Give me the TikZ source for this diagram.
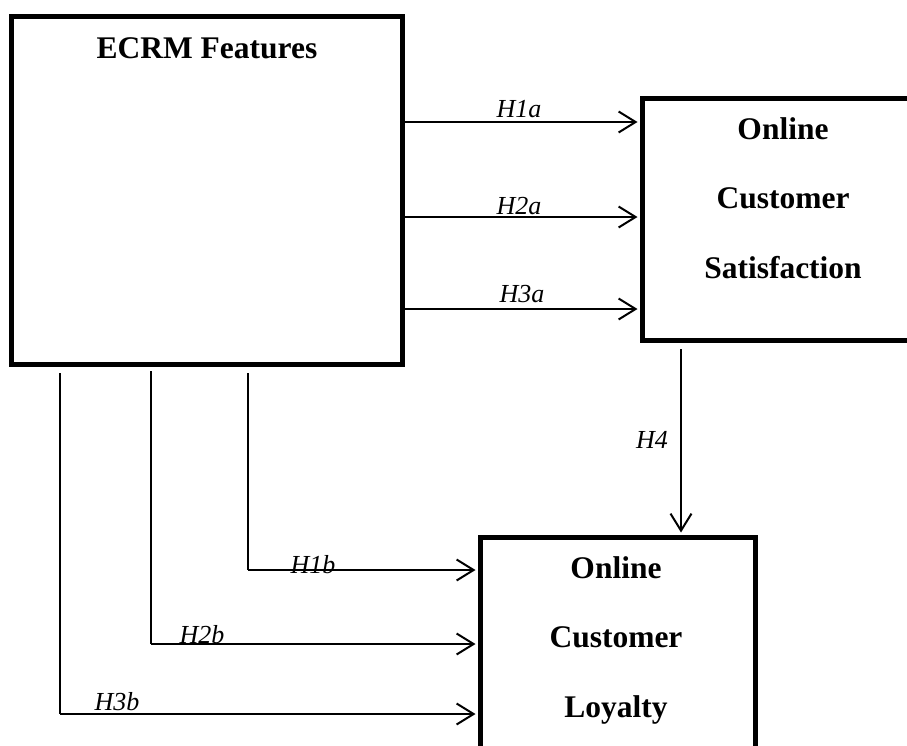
\documentclass[tikz,border=0pt]{standalone}
\usepackage{fontspec}
\setmainfont{Liberation Serif}
\usetikzlibrary{arrows.meta}
\begin{document}
\begin{tikzpicture}[x=1pt,y=-1pt,
 box/.style={draw,line width=5pt,inner sep=0pt},
 boxtext/.style={font=\fontsize{31.5}{36}\selectfont\bfseries,inner sep=0pt,anchor=base},
 hyp/.style={font=\fontsize{26}{30}\selectfont\itshape,inner sep=0pt,anchor=base},
 arr/.style={line width=2pt,shorten >=2pt,-{Straight Barb[length=17pt,width=21pt,line width=2pt]}},
 ln/.style={line width=2pt}]
\useasboundingbox (0,0) rectangle (907,745);
% boxes
\node[box,minimum width=391pt,minimum height=348pt] (ecrm) at (207,190) {};
\node[box,minimum width=282pt,minimum height=242pt] (sat) at (783,219) {};
\node[box,minimum width=275pt,minimum height=250pt] (loy) at (617.5,662) {};
% box texts
\node[boxtext] (ecrmt) at (207,58) {ECRM Features};
\node[boxtext] (sat1) at (783,139) {Online};
\node[boxtext] (sat2) at (783,208) {Customer};
\node[boxtext] (sat3) at (783,278) {Satisfaction};
\node[boxtext] (loy1) at (616,578) {Online};
\node[boxtext] (loy2) at (616,647) {Customer};
\node[boxtext] (loy3) at (616,717) {Loyalty};
% helper coordinates
\coordinate (ya) at (0,122);
\coordinate (yb) at (0,217);
\coordinate (yc) at (0,309);
\coordinate (s1) at (248,373);
\coordinate (s2) at (151,371);
\coordinate (s3) at (60,373);
\coordinate (c1) at (248,570);
\coordinate (c2) at (151,644);
\coordinate (c3) at (60,714);
\coordinate (h4s) at (681,349);
% ECRM -> satisfaction
\draw[arr] (ecrm.east |- ya) -- (sat.west |- ya);
\draw[arr] (ecrm.east |- yb) -- (sat.west |- yb);
\draw[arr] (ecrm.east |- yc) -- (sat.west |- yc);
% ECRM -> loyalty
\draw[ln] (s1) -- (c1);
\draw[arr] (c1) -- (loy.west |- c1);
\draw[ln] (s2) -- (c2);
\draw[arr] (c2) -- (loy.west |- c2);
\draw[ln] (s3) -- (c3);
\draw[arr] (c3) -- (loy.west |- c3);
% satisfaction -> loyalty
\draw[arr] (h4s) -- (h4s |- loy.north);
% labels
\node[hyp] (h1a) at (519,117) {H1a};
\node[hyp] (h2a) at (519,214) {H2a};
\node[hyp] (h3a) at (522,302) {H3a};
\node[hyp] (h1b) at (313,573) {H1b};
\node[hyp] (h2b) at (202,643) {H2b};
\node[hyp] (h3b) at (117,710) {H3b};
\node[hyp] (h4) at (652,448) {H4};
\end{tikzpicture}
\end{document}
